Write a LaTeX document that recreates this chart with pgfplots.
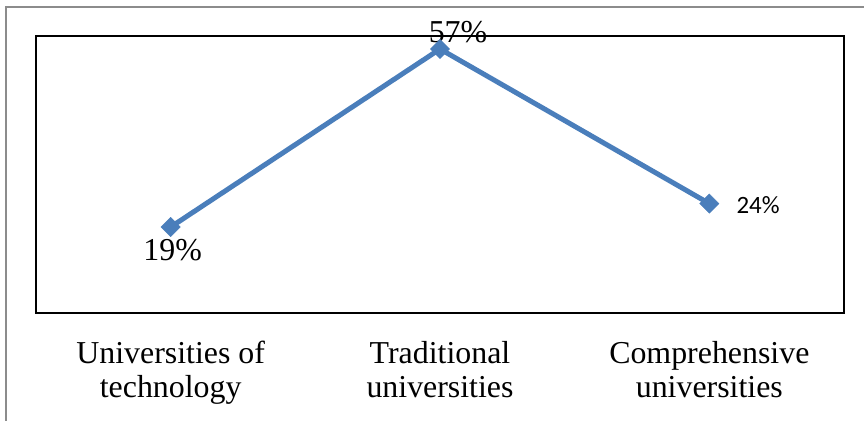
\documentclass[border=0pt]{standalone}
\usepackage{fontspec}
\setmainfont{Liberation Serif}
\newfontfamily\carlito{Carlito}
\usepackage{pgfplots}
\pgfplotsset{compat=1.18}
\definecolor{lineblue}{HTML}{4A7EBB}
\begin{document}
\begin{tikzpicture}
\useasboundingbox (0,0) rectangle (864bp,421bp);
\draw[black!45, line width=1.6bp] (6bp,0) -- (6bp,414bp) -- (864bp,414bp);
\begin{axis}[
  at={(36bp,108bp)}, anchor=south west,
  scale only axis, width=808bp, height=277bp,
  xmin=-0.5, xmax=2.5, ymin=0.64, ymax=59.78,
  xtick={0,1,2},
  xticklabels={Universities of\\technology, Traditional\\universities, Comprehensive\\universities},
  ytick=\empty,
  major tick length=0pt,
  axis line style={black, line width=1.5bp},
  xticklabel style={font=\fontsize{32}{34}\selectfont, align=center, inner sep=0pt, anchor=north, yshift=-28bp},
  clip=false,
]
\addplot[lineblue, line width=5bp, mark=square*, mark size=6.8bp, mark options={rotate=45, solid, fill=lineblue, line width=0.5bp}]
  coordinates {(0,19) (1,57) (2,24)};
\node[anchor=base, inner sep=0pt, font=\fontsize{32}{38}\selectfont] at ([xshift=2bp,yshift=-33bp]axis cs:0,19) {19\%};
\node[anchor=base, inner sep=0pt, font=\fontsize{32}{38}\selectfont] at ([xshift=18bp,yshift=7bp]axis cs:1,57) {57\%};
\node[anchor=base west, inner sep=0pt, font=\carlito\fontsize{25}{30}\selectfont] at ([xshift=27bp,yshift=-10bp]axis cs:2,24) {24\%};
\end{axis}
\end{tikzpicture}
\end{document}
